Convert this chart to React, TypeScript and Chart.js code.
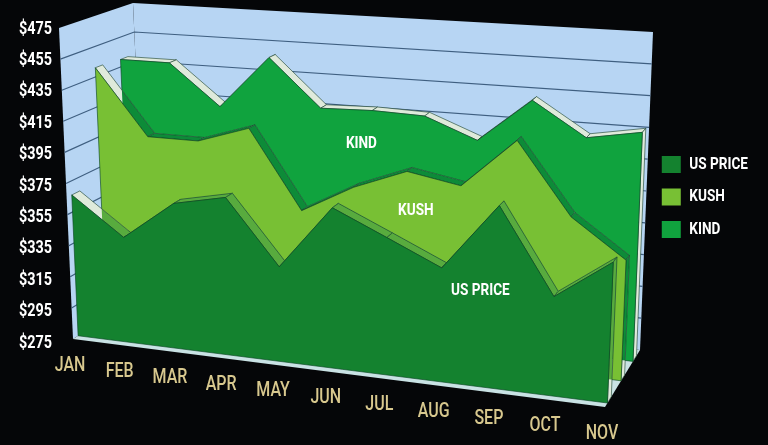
import React, { useEffect, useRef } from "react";
import { Chart, registerables } from "chart.js";

Chart.register(...registerables);

const months = ["JAN", "FEB", "MAR", "APR", "MAY", "JUN", "JUL", "AUG", "SEP", "OCT", "NOV"];
const usPrice = [366, 342, 367, 374, 334, 374, 359, 344, 385, 334, 358];
const kush = [441, 398, 398, 409, 359, 377, 390, 384, 415, 371, 348];
const kind = [440, 440, 413, 448, 417, 418, 417, 404, 432, 411, 417];
const seriesNames = ["US PRICE", "KUSH", "KIND"];
const faceColors = ["#14822f", "#78c034", "#10a33e"];

const FONT = '"Roboto", sans-serif';
const CONDENSE = 0.8;

type P = [number, number];
const FBL: P = [73, 339], FBR: P = [605, 407], BBL: P = [146, 293], BBR: P = [640, 350];
const FTL: P = [59, 28], FTR: P = [619, 66], BTL: P = [133, 3], BTR: P = [653, 32];
const lerp = (a: P, b: P, t: number): P => [a[0] + (b[0] - a[0]) * t, a[1] + (b[1] - a[1]) * t];
const warp = (u: number) => u / (u + 1.08 * (1 - u));
const project = (u: number, v: number, d: number): P => {
  const w = warp(u);
  const bottom = lerp(lerp(FBL, FBR, w), lerp(BBL, BBR, w), d);
  const top = lerp(lerp(FTL, FTR, w), lerp(BTL, BTR, w), d);
  return lerp(bottom, top, v);
};
const DEPTHS: P[] = [[0.07, 0.18], [0.46, 0.56], [0.8, 0.9]];
const RIDGE_TINT: string[][] = [
  ["", "#58ab3e", "#12913a"],
  ["", "", "#0d8b38"],
  ["", "", ""],
];

const path = (ctx: CanvasRenderingContext2D, pts: P[]) => {
  ctx.beginPath();
  pts.forEach((p, i) => (i ? ctx.lineTo(p[0], p[1]) : ctx.moveTo(p[0], p[1])));
  ctx.closePath();
};

// All canvas text is narrowed, since no condensed face is installed.
const condenseText = (ctx: any) => {
  const fill = ctx.fillText.bind(ctx);
  const measure = ctx.measureText.bind(ctx);
  ctx.fillText = (t: string, x: number, y: number) => {
    ctx.save();
    ctx.translate(x, y);
    ctx.scale(CONDENSE, 1);
    fill(t, 0, 0);
    ctx.restore();
  };
  ctx.measureText = (t: string) => {
    const m = measure(t);
    return { width: m.width * CONDENSE };
  };
};

const scene3d = {
  id: "scene3d",
  afterLayout(chart: any) {
    const l = chart.legend;
    if (l) {
      l.left -= 10;
      l.right -= 10;
      l.top += 11;
      l.bottom += 11;
      l.adjustHitBoxes();
    }
  },
  beforeDatasetsDraw(chart: any) {
    const ctx: CanvasRenderingContext2D = chart.ctx;
    const xs = chart.scales.x;
    const ys = chart.scales.y;
    const U = (i: number) => (xs.getPixelForValue(i) - xs.left) / xs.width;
    const V = (val: number) => (ys.bottom - ys.getPixelForValue(val)) / ys.height;
    const n = months.length;

    ctx.save();
    ctx.fillStyle = "#b7d5f3";
    path(ctx, [project(0, 1, 0), project(0, 1, 1), project(0, 0, 1), project(0, 0, 0)]);
    ctx.fill();
    path(ctx, [project(0, 1, 1), project(1, 1, 1), project(1, 0, 1), project(0, 0, 1)]);
    ctx.fill();
    ctx.fillStyle = "#c9e2e4";
    path(ctx, [project(0, 0, 0), project(1, 0, 0), project(1, 0, 1), project(0, 0, 1)]);
    ctx.fill();

    ctx.strokeStyle = "#3f5f80";
    ctx.lineWidth = 1.2;
    ys.ticks.forEach((t: any) => {
      const v = V(t.value);
      if (v <= 0 || v >= 1) return;
      const a = project(0, v, 0), b = project(0, v, 1), c = project(1, v, 1);
      ctx.beginPath();
      ctx.moveTo(a[0], a[1]);
      ctx.lineTo(b[0], b[1]);
      ctx.lineTo(c[0], c[1]);
      ctx.stroke();
    });

    const facePts = (s: number): P[] => {
      const vals = chart.data.datasets[s].data as number[];
      const d0 = DEPTHS[s][0];
      const pts: P[] = vals.map((val, i) => project(U(i), V(val), d0));
      pts.push(project(U(n - 1), 0, d0), project(U(0), 0, d0));
      return pts;
    };
    for (let s = 2; s >= 0; s--) {
      const vals = chart.data.datasets[s].data as number[];
      const [d0, d1] = DEPTHS[s];
      const quads: P[][] = [];
      for (let i = 0; i < n - 1; i++) {
        quads.push([
          project(U(i), V(vals[i]), d0),
          project(U(i + 1), V(vals[i + 1]), d0),
          project(U(i + 1), V(vals[i + 1]), d1),
          project(U(i), V(vals[i]), d1),
        ]);
      }
      quads.push([
        project(U(n - 1), V(vals[n - 1]), d0),
        project(U(n - 1), V(vals[n - 1]), d1),
        project(U(n - 1), 0, d1),
        project(U(n - 1), 0, d0),
      ]);
      quads.forEach((q) => {
        ctx.fillStyle = "#dfeadb";
        path(ctx, q);
        ctx.fill();
        ctx.save();
        path(ctx, q);
        ctx.clip();
        for (let b = 2; b > s; b--) {
          ctx.fillStyle = RIDGE_TINT[s][b];
          path(ctx, facePts(b));
          ctx.fill();
        }
        ctx.restore();
        ctx.strokeStyle = "rgba(20,60,40,0.75)";
        ctx.lineWidth = 0.8;
        path(ctx, q);
        ctx.stroke();
      });
      ctx.fillStyle = faceColors[s];
      path(ctx, facePts(s));
      ctx.fill();
      ctx.strokeStyle = "rgba(10,70,35,0.8)";
      ctx.lineWidth = 0.8;
      ctx.stroke();
    }

    ctx.font = `500 20px ${FONT}`;
    ctx.fillStyle = "#d8c88e";
    ctx.textAlign = "center";
    ctx.textBaseline = "middle";
    months.forEach((_, i) => {
      const p = project(U(i), 0, 0);
      ctx.fillText(xs.getLabelForValue(i), p[0] - 3, p[1] + 26.5);
    });

    ctx.font = `bold 17px ${FONT}`;
    ctx.fillStyle = "#ffffff";
    const captions: [number, number, number][] = [[0, 7.7, 0.29], [1, 6.17, 0.453], [2, 4.79, 0.604]];
    captions.forEach(([s, i, v]) => {
      const p = project(i / (n - 1), v, DEPTHS[s][0]);
      ctx.fillText(seriesNames[s], p[0], p[1]);
    });
    ctx.restore();
    return false;
  },
};

const background = {
  id: "background",
  beforeDraw(chart: any) {
    chart.ctx.save();
    chart.ctx.fillStyle = "#050608";
    chart.ctx.fillRect(0, 0, chart.width, chart.height);
    chart.ctx.restore();
  },
};

export default function App() {
  const ref = useRef<HTMLCanvasElement>(null);
  useEffect(() => {
    document.body.style.margin = "0";
    document.body.style.background = "#050608";
    const canvas = ref.current!;
    condenseText(canvas.getContext("2d"));
    const series = [usPrice, kush, kind];
    const chart = new Chart(canvas, {
      type: "line",
      data: {
        labels: months,
        datasets: seriesNames.map((label, i) => ({
          label,
          data: series[i],
          backgroundColor: faceColors[i],
          borderColor: faceColors[i],
          fill: false,
          pointRadius: 0,
        })),
      },
      options: {
        animation: false,
        responsive: false,
        devicePixelRatio: 1,
        layout: { padding: { left: 18, top: 29, bottom: 102, right: 0 } },
        plugins: {
          tooltip: { enabled: false },
          legend: {
            position: "right",
            fullSize: false,
            labels: {
              color: "#ffffff",
              boxWidth: 19,
              boxHeight: 17,
              padding: 15.5,
              font: { family: FONT, size: 17, weight: "bold" },
              generateLabels: (c: any) =>
                c.data.datasets.map((ds: any, i: number) => ({
                  text: ds.label,
                  fillStyle: ds.backgroundColor,
                  strokeStyle: ds.backgroundColor,
                  lineWidth: 0,
                  fontColor: "#ffffff",
                  datasetIndex: i,
                })),
            },
          },
        },
        scales: {
          x: { type: "category", display: false, offset: false },
          y: {
            min: 275,
            max: 475,
            border: { display: false },
            grid: { display: false, drawTicks: false },
            afterFit: (s: any) => { s.width = 40; },
            ticks: {
              stepSize: 20,
              padding: 6,
              color: "#ffffff",
              autoSkip: false,
              font: { family: FONT, size: 18, weight: "bold" },
              callback: (v: any) => `$${v}`,
            },
          },
        },
      },
      plugins: [background, scene3d],
    } as any);
    return () => chart.destroy();
  }, []);
  return (
    <div style={{ width: 768, height: 445 }}>
      <canvas ref={ref} width={768} height={445} style={{ display: "block", filter: "blur(0.4px)" }} />
    </div>
  );
}
